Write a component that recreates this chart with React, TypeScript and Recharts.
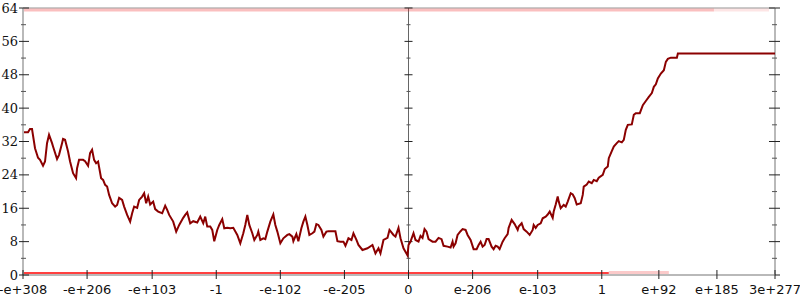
import { LineChart, Line, XAxis, YAxis, ReferenceLine } from "recharts"

// x positions are in axis units (left edge 0, right edge 751)
const xTickPos = [0, 64, 129, 193, 257, 321, 385, 449, 514, 578, 635, 693, 751]
const xTickLabels = [
  "-e+308", "-e+206", "-e+103", "-1", "-e-102", "-e-205", "0",
  "e-206", "e-103", "1", "e+92", "e+185", "3e+277",
]
const yTicks = [0, 4, 8, 12, 16, 20, 24, 28, 32, 36, 40, 44, 48, 52, 56, 60, 64]

// [x, count]
const walk: [number, number][] = [
  [0, 34.2], [5, 34.2], [7, 35.0], [9, 35.0], [12, 30.4], [15, 28.1], [17, 27.6], [20, 26.2],
  [22, 27.2], [24, 31.6], [26, 33.6], [29, 31.6], [30, 30.8], [34, 27.8], [36, 28.8], [39, 31.6],
  [40, 32.6], [42, 32.4], [45, 29.6], [47, 27.2], [50, 24.4], [53, 23.2], [54, 25.6], [56, 27.6],
  [60, 27.6], [62, 27.3], [65, 26.2], [67, 29.2], [69, 30.0], [71, 27.6], [73, 26.8], [75, 27.2],
  [78, 23.2], [80, 22.8], [82, 21.6], [84, 21.2], [86, 19.2], [89, 17.2], [92, 16.4], [94, 16.8],
  [96, 18.5], [99, 18.0], [101, 16.4], [104, 14.4], [107, 12.8], [109, 14.8], [111, 16.4], [114, 16.1],
  [116, 18.0], [119, 18.8], [121, 19.6], [123, 17.2], [125, 18.8], [127, 16.9], [130, 17.6], [132, 15.8],
  [135, 15.2], [139, 14.8], [142, 16.6], [144, 15.6], [146, 14.4], [150, 12.8], [153, 10.4], [156, 12.0],
  [160, 13.7], [162, 14.4], [164, 15.0], [167, 12.4], [170, 12.9], [174, 12.6], [177, 14.0], [180, 12.4],
  [182, 14.0], [184, 11.6], [187, 11.6], [189, 10.8], [191, 8.1], [194, 10.8], [196, 12.0], [199, 13.4],
  [201, 11.2], [204, 11.3], [207, 11.2], [210, 11.3], [214, 9.6], [217, 7.6], [220, 10.0], [222, 12.0],
  [224, 14.4], [226, 12.0], [229, 10.0], [231, 8.4], [234, 9.6], [235, 10.4], [237, 8.4], [240, 8.8],
  [242, 8.6], [244, 10.4], [247, 12.8], [250, 14.5], [252, 12.0], [254, 10.4], [257, 7.6], [260, 8.8],
  [264, 9.6], [266, 9.8], [269, 9.2], [270, 8.1], [273, 9.8], [275, 8.1], [278, 11.2], [280, 12.8],
  [282, 14.0], [284, 12.0], [286, 9.6], [289, 10.0], [291, 10.4], [293, 12.2], [295, 12.0], [298, 10.8],
  [300, 9.2], [303, 10.4], [305, 10.5], [312, 10.5], [314, 8.1], [317, 8.0], [320, 8.0], [322, 7.0],
  [325, 8.8], [328, 8.4], [330, 10.0], [333, 8.4], [335, 7.2], [339, 6.0], [344, 6.4], [349, 7.2],
  [352, 5.2], [355, 6.4], [357, 5.2], [360, 8.4], [364, 8.9], [366, 10.8], [370, 9.6], [372, 9.2],
  [375, 11.3], [377, 8.8], [380, 6.4], [384, 4.7], [385, 7.2], [387, 8.0], [390, 10.0], [392, 8.4],
  [395, 8.0], [397, 9.4], [399, 8.9], [401, 11.0], [403, 10.4], [405, 8.6], [409, 8.0], [412, 8.0],
  [415, 8.9], [418, 8.6], [420, 7.0], [424, 6.8], [427, 6.6], [429, 8.0], [430, 6.8], [432, 7.6],
  [434, 9.6], [437, 10.5], [439, 11.0], [442, 10.8], [444, 9.6], [447, 8.4], [450, 6.2], [453, 6.2],
  [455, 7.2], [457, 8.0], [459, 6.8], [461, 7.2], [463, 8.6], [465, 8.6], [468, 6.8], [470, 6.2],
  [472, 7.0], [474, 6.8], [476, 6.2], [479, 8.0], [481, 8.8], [484, 9.8], [485, 11.3], [488, 13.2],
  [491, 12.2], [494, 10.8], [495, 11.6], [498, 12.4], [500, 11.0], [503, 10.4], [506, 9.6], [509, 10.8],
  [510, 12.0], [512, 11.3], [514, 12.0], [517, 12.4], [519, 13.6], [522, 14.0], [524, 14.5], [526, 15.2],
  [529, 13.7], [530, 15.2], [532, 16.9], [534, 18.8], [535, 17.6], [537, 16.0], [540, 16.8], [542, 16.4],
  [544, 17.6], [547, 19.6], [549, 19.3], [551, 18.4], [553, 16.9], [557, 17.2], [559, 19.2], [560, 21.2],
  [563, 21.7], [565, 22.4], [568, 22.0], [570, 22.8], [573, 22.5], [575, 23.3], [579, 24.0], [581, 25.4],
  [584, 26.0], [585, 28.0], [588, 29.7], [590, 30.8], [593, 31.6], [595, 32.1], [598, 31.8], [600, 32.4],
  [602, 34.8], [604, 36.0], [608, 36.1], [610, 38.4], [612, 38.8], [616, 38.8], [619, 40.7], [622, 41.7],
  [625, 42.7], [628, 43.6], [630, 45.1], [632, 45.7], [634, 47.1], [637, 48.3], [640, 49.1], [642, 51.1],
  [644, 51.8], [647, 52.1], [653, 52.1], [654, 53.1], [751, 53.1],
]

// saturated values piled at the top and bottom edges
const topPile: [number, number][] = [[0, 63.5], [690, 63.5]]
const topPileTail: [number, number][] = [[690, 63.5], [745, 63.5]]
const bottomPile: [number, number][] = [[0, 0.35], [585, 0.35]]
const bottomPileTail: [number, number][] = [[585, 0.6], [645, 0.6]]

const toRows = (pts: [number, number][]) => pts.map(([x, y]) => ({ x, y }))

const AXIS_GREY = "#b9b9b9"

function XTick(props: any) {
  const { x, y, index } = props
  return (
    <g>
      <line x1={x} x2={x} y1={y - 5} y2={y + 4} stroke="#222" strokeWidth={1} />
      <text
        x={x}
        y={y + 19}
        textAnchor="middle"
        fontFamily="DejaVu Sans"
        fontSize={13}
        fill="#111"
      >
        {xTickLabels[index]}
      </text>
    </g>
  )
}

function YTick(props: any) {
  const { x, y, payload } = props
  const major = payload.value % 8 === 0
  return (
    <g>
      <line
        x1={major ? x - 4 : x - 2}
        x2={major ? x + 6 : x + 3}
        y1={y}
        y2={y}
        stroke={major ? "#222" : "#555"}
        strokeWidth={1}
      />
      {major && (
        <text
          x={x - 5}
          y={y + 4.5}
          textAnchor="end"
          fontFamily="DejaVu Serif"
          fontSize={13}
          fill="#111"
        >
          {payload.value}
        </text>
      )}
    </g>
  )
}

export default function App() {
  return (
    <div style={{ position: "absolute", left: 0, top: 0, background: "#fff" }}>
      <LineChart
        width={800}
        height={300}
        margin={{ top: 8, right: 25, left: 0, bottom: 0 }}
        style={{ overflow: "visible" }}
      >
        <XAxis
          type="number"
          dataKey="x"
          domain={[0, 751]}
          allowDataOverflow
          ticks={xTickPos}
          interval={0}
          height={25}
          tickSize={0}
          tickMargin={0}
          tick={<XTick />}
          tickLine={false}
          axisLine={{ stroke: AXIS_GREY, strokeWidth: 2 }}
        />
        <YAxis
          type="number"
          domain={[0, 64]}
          allowDataOverflow
          ticks={yTicks}
          interval={0}
          width={23}
          tickSize={0}
          tickMargin={0}
          tick={<YTick />}
          tickLine={false}
          axisLine={{ stroke: AXIS_GREY, strokeWidth: 2 }}
        />
        <ReferenceLine y={64} stroke={AXIS_GREY} strokeWidth={1.5} />
        <ReferenceLine x={751} stroke={AXIS_GREY} strokeWidth={2} />
        <ReferenceLine x={385} stroke="#666" strokeWidth={1} />
        {yTicks.map((v) => {
          const major = v % 8 === 0
          return (
            <ReferenceLine
              key={"c" + v}
              ifOverflow="visible"
              segment={[
                { x: major ? 381 : 383, y: v },
                { x: major ? 389 : 387, y: v },
              ]}
              stroke={major ? "#222" : "#555"}
              strokeWidth={1}
            />
          )
        })}
        {yTicks.map((v) => {
          const major = v % 8 === 0
          return (
            <ReferenceLine
              key={"r" + v}
              ifOverflow="visible"
              segment={[
                { x: major ? 745 : 748, y: v },
                { x: major ? 756 : 753, y: v },
              ]}
              stroke={major ? "#222" : "#555"}
              strokeWidth={1}
            />
          )
        })}
        <Line
          data={toRows(topPile)}
          dataKey="y"
          stroke="#ee2a2a"
          strokeOpacity={0.3}
          strokeWidth={3}
          dot={false}
          isAnimationActive={false}
        />
        <Line
          data={toRows(topPileTail)}
          dataKey="y"
          stroke="#ee2a2a"
          strokeOpacity={0.12}
          strokeWidth={3}
          dot={false}
          isAnimationActive={false}
        />
        <Line
          data={toRows(bottomPile)}
          dataKey="y"
          stroke="#ff1010"
          strokeOpacity={0.8}
          strokeWidth={3}
          dot={false}
          isAnimationActive={false}
        />
        <Line
          data={toRows(bottomPileTail)}
          dataKey="y"
          stroke="#ee2a2a"
          strokeOpacity={0.25}
          strokeWidth={3}
          dot={false}
          isAnimationActive={false}
        />
        <Line
          data={toRows(walk)}
          dataKey="y"
          stroke="#8b0000"
          strokeWidth={2}
          dot={false}
          isAnimationActive={false}
        />
      </LineChart>
    </div>
  )
}
